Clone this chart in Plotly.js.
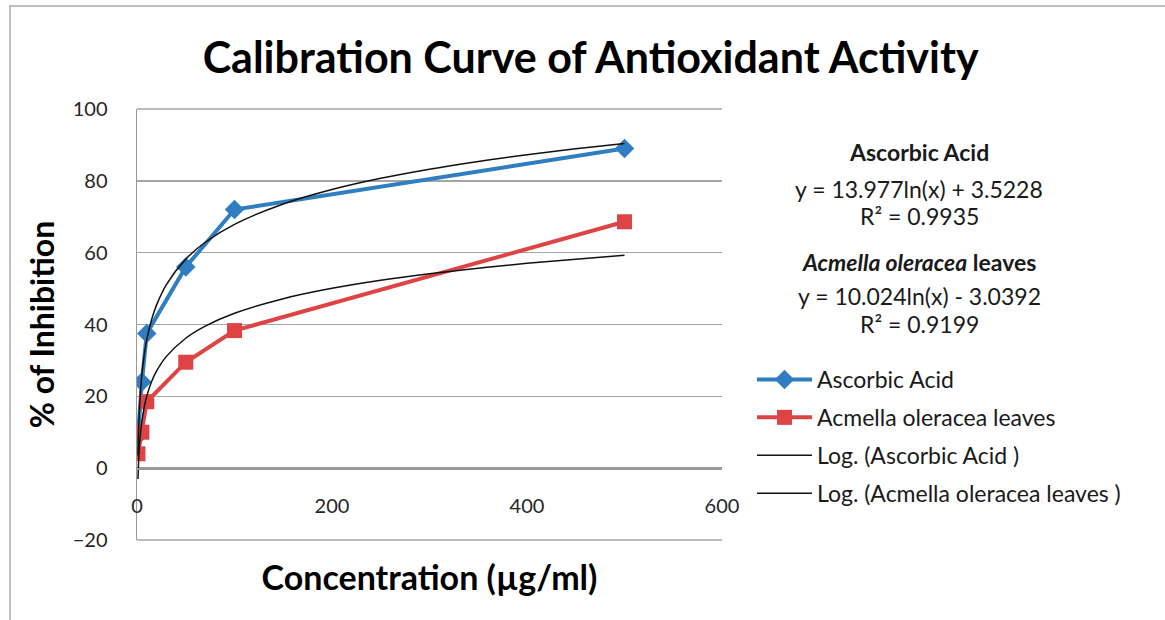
<!DOCTYPE html>
<html>
<head>
<meta charset="utf-8">
<script src="https://cdn.plot.ly/plotly-3.0.1.min.js"></script>
<style>
html,body{margin:0;padding:0;background:#fff;}
#chart{width:1165px;height:620px;}
</style>
</head>
<body>
<div id="chart"></div>
<script>
// ---- data ----
const ascorbicX = [1, 5, 10, 50, 100, 500];
const ascorbicY = [9, 24, 37.5, 56, 72, 89];
const acmellaX = [1, 5, 10, 50, 100, 500];
const acmellaY = [4, 10, 18.5, 29.5, 38.3, 68.6];
// logarithmic trendline coefficients printed on the chart: y = a*ln(x) + b
const ascorbicFit = [13.977, 3.5228];
const acmellaFit = [10.024, -3.0392];
const trendX = [1, 2, 3, 5, 7, 10, 15, 20, 30, 50, 70, 100, 150, 200, 250, 300, 350, 400, 450, 500];
const xTicks = [0, 200, 400, 600];
const yTicks = [-20, 0, 20, 40, 60, 80, 100];

const fitY = (c) => trendX.map(x => c[0] * Math.log(x) + c[1]);

const font = "Lato, 'Open Sans', sans-serif";

const traces = [
  {x: ascorbicX, y: ascorbicY, name: 'Ascorbic Acid', mode: 'lines+markers',
   line: {color: '#2f7ec1', width: 4}, marker: {symbol: 'diamond', size: 15, color: '#2f7ec1'},
   legendgroup: 'a'},
  {x: acmellaX, y: acmellaY, name: 'Acmella oleracea leaves', mode: 'lines+markers',
   line: {color: '#df4444', width: 4}, marker: {symbol: 'square', size: 15, color: '#df4444'},
   legendgroup: 'b'},
  {x: trendX, y: fitY(ascorbicFit), name: 'Log. (Ascorbic Acid )', mode: 'lines',
   line: {color: '#111', width: 1.5, shape: 'spline'}, legendgroup: 'c'},
  {x: trendX, y: fitY(acmellaFit), name: 'Log. (Acmella oleracea leaves )', mode: 'lines',
   line: {color: '#111', width: 1.5, shape: 'spline'}, legendgroup: 'd'}
];

const eqFont = {family: font, size: 23, color: '#1a1a1a'};
const px2x = (px) => (px - 137) / 585;
const py2y = (py) => (540 - py) / 431;

const layout = {
  width: 1165, height: 620,
  margin: {l: 137, r: 443, t: 109, b: 80},
  paper_bgcolor: '#fff', plot_bgcolor: '#fff',
  font: {family: font, size: 20, color: '#262626'},
  title: {text: '<b>Calibration Curve of Antioxidant Activity</b>',
          font: {family: font, size: 43, color: '#000'},
          x: 0.507, xanchor: 'center', y: 0.906, yanchor: 'middle'},
  xaxis: {range: [0, 600], tickvals: xTicks, showgrid: false, zeroline: true,
          zerolinecolor: '#9a9a9a', zerolinewidth: 1.5,
          anchor: 'free', position: 20 / 120, showline: true, linecolor: '#9a9a9a', linewidth: 1.5,
          ticks: '', ticklabelstandoff: 19,
          tickfont: {family: font, size: 20, color: '#262626'},
          title: {text: '<b>Concentration (µg/ml)</b>', font: {family: font, size: 34, color: '#000'}, standoff: 50}},
  yaxis: {range: [-20, 100], tickvals: yTicks, showgrid: true, gridcolor: '#a6a6a6', gridwidth: 1.5,
          zeroline: true, zerolinecolor: '#9a9a9a', zerolinewidth: 1.5,
          showline: true, linecolor: '#9a9a9a', linewidth: 1.5, ticks: '', ticklabelstandoff: 24,
          tickfont: {family: font, size: 20, color: '#262626'},
          title: {text: '<b>% of Inhibition</b>', font: {family: font, size: 32, color: '#000'}, standoff: 8}},
  showlegend: true,
  legend: {x: px2x(752), y: py2y(358), xanchor: 'left', yanchor: 'top',
           font: {family: font, size: 23, color: '#1a1a1a'}, itemwidth: 55,
           tracegroupgap: 5, bgcolor: 'rgba(0,0,0,0)'},
  annotations: [
    {text: '<b>Ascorbic Acid</b>', x: px2x(919), y: py2y(152)},
    {text: 'y = 13.977ln(x) + 3.5228', x: px2x(919), y: py2y(189)},
    {text: 'R² = 0.9935', x: px2x(919), y: py2y(216)},
    {text: '<b><i>Acmella oleracea</i> leaves</b>', x: px2x(919), y: py2y(262)},
    {text: 'y = 10.024ln(x) - 3.0392', x: px2x(919), y: py2y(296)},
    {text: 'R² = 0.9199', x: px2x(919), y: py2y(324)}
  ].map(a => Object.assign({xref: 'paper', yref: 'paper', showarrow: false,
                            xanchor: 'center', yanchor: 'middle', font: eqFont}, a)),
  shapes: [
    {type: 'rect', xref: 'paper', yref: 'paper', x0: px2x(10), x1: px2x(1175), y0: py2y(6), y1: py2y(630),
     line: {color: '#bdbdbd', width: 2}, fillcolor: 'rgba(0,0,0,0)', layer: 'below'},
    {type: 'line', xref: 'paper', yref: 'paper', x0: 0, x1: 1, y0: 1, y1: 1,
     line: {color: '#a6a6a6', width: 1.5}, layer: 'below'},
    {type: 'line', xref: 'paper', yref: 'paper', x0: 0, x1: 1, y0: 0, y1: 0,
     line: {color: '#a6a6a6', width: 1.5}, layer: 'below'}
  ]
};

Plotly.newPlot('chart', traces, layout, {displayModeBar: false, staticPlot: true});
</script>
</body>
</html>
